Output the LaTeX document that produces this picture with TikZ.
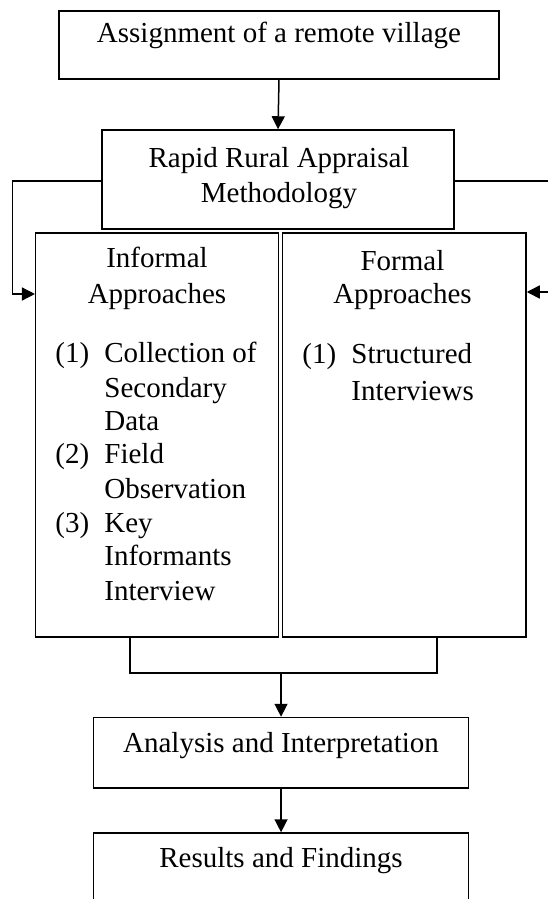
\documentclass[tikz,border=0pt]{standalone}
\usepackage{fontspec}
\setmainfont{Liberation Serif}
\usetikzlibrary{arrows.meta,fit}
\begin{document}
\begin{tikzpicture}[x=0.5pt,y=-0.5pt,
  font=\fontsize{14.5}{17.5}\selectfont,
  box/.style={draw, line width=0.75pt, inner sep=0pt, rectangle},
  lbl/.style={anchor=base, inner sep=0pt},
  lblw/.style={anchor=base west, inner sep=0pt},
  conn/.style={line width=0.75pt},
  arr/.style={conn, -{Triangle[length=6.5pt,width=6.5pt]}}]
\useasboundingbox (0,0) rectangle (547,899);
% boxes
\node[box, fit={(59,11) (499,79)}] (top) {};
\node[box, fit={(102,130) (454,229)}] (rapid) {};
\node[box, fit={(35.7,233) (278.3,637)}] (inf) {};
\node[box, fit={(282.3,233) (526,637)}] (for) {};
\node[box, fit={(93.5,717.5) (468.6,788)}] (ana) {};
\node[box, fit={(93.5,833) (468.6,930)}] (res) {};
% texts
\node[lbl] (t1) at (279,43) {Assignment of a remote village};
\node[lbl] (r1) at (279,167) {Rapid Rural Appraisal};
\node[lbl] (r2) at (279,202) {Methodology};
\node[lbl] (i1) at (157,267) {Informal};
\node[lbl] (i2) at (157,303) {Approaches};
\node[lblw] (in1) at (55,362) {(1)};
\node[lblw] (it1a) at (104,362) {Collection of};
\node[lblw] (it1b) at (104,397) {Secondary};
\node[lblw] (it1c) at (104,430) {Data};
\node[lblw] (in2) at (55,463) {(2)};
\node[lblw] (it2a) at (104,463) {Field};
\node[lblw] (it2b) at (104,498) {Observation};
\node[lblw] (in3) at (55,532) {(3)};
\node[lblw] (it3a) at (104,532) {Key};
\node[lblw] (it3b) at (104,565) {Informants};
\node[lblw] (it3c) at (104,600) {Interview};
\node[lbl] (f1) at (402.5,270) {Formal};
\node[lbl] (f2) at (402.5,303) {Approaches};
\node[lblw] (fn1) at (302,363) {(1)};
\node[lblw] (ft1a) at (351,363) {Structured};
\node[lblw] (ft1b) at (351,400) {Interviews};
\node[lbl] (a1) at (281,752) {Analysis and Interpretation};
\node[lbl] (rs1) at (281,867) {Results and Findings};
% connector coordinates
\coordinate (lk1) at (12.7,181);
\coordinate (lk2) at (12.7,294);
\coordinate (rk1) at (565,181);
\coordinate (rk2) at (565,292);
\coordinate (bl) at (130,673);
\coordinate (br) at (437,673);
% connectors
\draw[arr] (top.south) -- (rapid.north);
\draw[arr] (lk1 -| rapid.west) -- (lk1) -- (lk2) -- (lk2 -| inf.west);
\draw[arr] (rk1 -| rapid.east) -- (rk1) -- (rk2) -- (rk2 -| for.east);
\draw[conn] (bl |- inf.south) -- (bl) -- (br) -- (br |- for.south);
\draw[arr] (ana.north |- bl) -- (ana.north);
\draw[arr] (ana.south) -- (res.north);
\end{tikzpicture}
\end{document}
